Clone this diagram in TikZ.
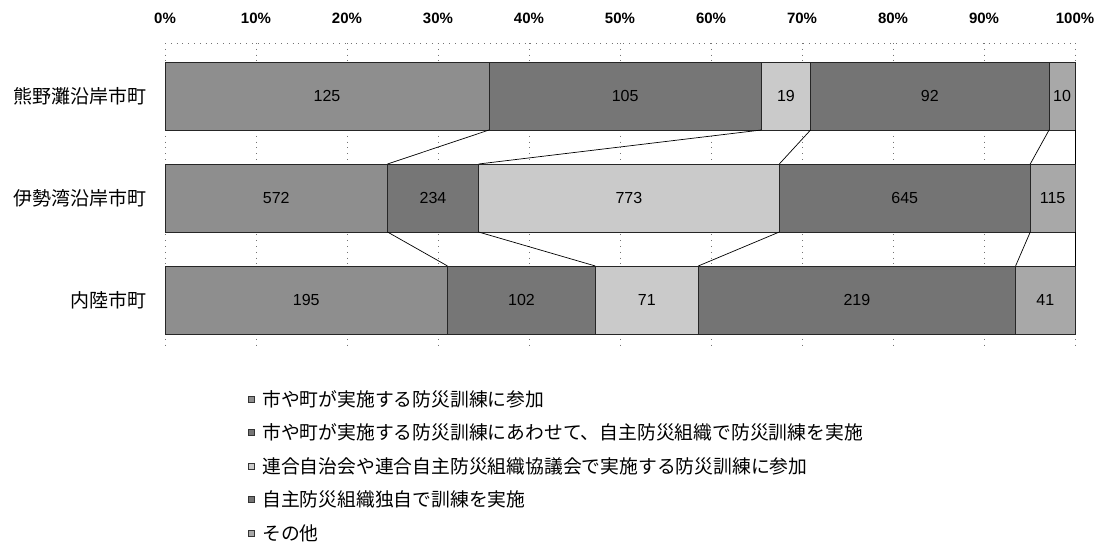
\documentclass[tikz,border=0pt]{standalone}
\usepackage{fontspec}
\setmainfont{Liberation Sans}
\newfontfamily\jpfont{Noto Sans CJK JP}
\usetikzlibrary{positioning}

\definecolor{ser1}{RGB}{142,142,142}
\definecolor{ser2}{RGB}{118,118,118}
\definecolor{ser3}{RGB}{202,202,202}
\definecolor{ser4}{RGB}{116,116,116}
\definecolor{ser5}{RGB}{168,168,168}

\begin{document}
\begin{tikzpicture}[x=1pt,y=-1pt,
  seg/.style={draw=black!85,line width=0.8pt,outer sep=0pt,inner sep=0pt,minimum height=68pt,anchor=west,font=\fontsize{16}{16}\selectfont},
  pct/.style={font=\fontsize{15}{15}\selectfont\bfseries},
  cat/.style={anchor=east,inner sep=0pt,font=\jpfont\fontsize{19}{19}\selectfont},
  key/.style={draw=black!80,fill=#1,minimum size=6pt,inner sep=0pt},
  keytext/.style={anchor=west,inner sep=0pt,font=\jpfont\fontsize{18.8}{18.8}\selectfont},
  gridline/.style={black!55,line width=0.6pt,dash pattern=on 0.8pt off 5pt},
  link/.style={black,line width=0.7pt}]
  \useasboundingbox (0,0) rectangle (1102,549);

  % grid and axis
  \draw[gridline] (165,43) -- (1075,43);
  \foreach \k in {0,...,10} {
    \draw[gridline] (165+91*\k,43) -- (165+91*\k,345);
    \node[pct] (p\k) at (165+91*\k,18) {\the\numexpr\k*10\relax\%};
  }

  % bars
  \foreach \r/\y/\tot/\vals/\name in {1/96/351/{125,105,19,92,10}/熊野灘沿岸市町,
      2/198/2339/{572,234,773,645,115}/伊勢湾沿岸市町,
      3/300/628/{195,102,71,219,41}/内陸市町} {
    \node[cat] (c\r) at (147,\y) {\name};
    \node[inner sep=0pt,outer sep=0pt,minimum size=0pt] (b\r0) at (165,\y) {};
    \foreach \v [count=\i,remember=\i as \j (initially 0)] in \vals
      \node[seg,fill=ser\i,minimum width={\v/\tot*910pt}] (b\r\i) at (b\r\j.east) {\v};
  }

  % series lines
  \foreach \r [count=\n from 2] in {1,2}
    \foreach \i in {1,...,5}
      \draw[link] (b\r\i.south east) -- (b\n\i.north east);

  % legend
  \foreach \t [count=\i] in {市や町が実施する防災訓練に参加,
      市や町が実施する防災訓練にあわせて、自主防災組織で防災訓練を実施,
      連合自治会や連合自主防災組織協議会で実施する防災訓練に参加,
      自主防災組織独自で訓練を実施,
      その他} {
    \node[keytext] (t\i) at (262,365.5+33.5*\i) {\t};
    \node[key=ser\i,left=8pt of t\i] (k\i) {};
  }
\end{tikzpicture}
\end{document}
